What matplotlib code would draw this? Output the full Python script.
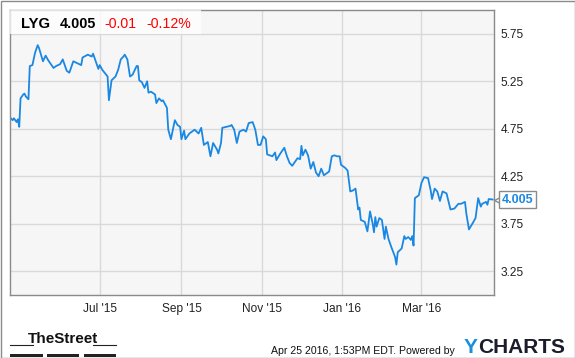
import matplotlib
matplotlib.use("Agg")
import matplotlib.pyplot as plt
import matplotlib.transforms as mtransforms
from matplotlib.patches import Rectangle
from matplotlib.lines import Line2D
import pandas as pd

plt.rcParams['font.family'] = ['Liberation Sans', 'DejaVu Sans']

# header / footer text
ticker = "LYG"
last_price = 4.005
change = "-0.01"
change_pct = "-0.12%"
timestamp = "Apr 25 2016, 1:53PM EDT. Powered by"

# price series
dates = [
    "2015-04-24", "2015-04-26", "2015-04-27", "2015-04-29", "2015-04-30",
    "2015-05-01", "2015-05-02", "2015-05-04", "2015-05-05", "2015-05-06",
    "2015-05-08", "2015-05-09", "2015-05-11", "2015-05-13", "2015-05-15",
    "2015-05-16", "2015-05-19", "2015-05-21", "2015-05-23", "2015-05-27",
    "2015-05-29", "2015-06-01", "2015-06-03", "2015-06-06", "2015-06-08",
    "2015-06-11", "2015-06-14", "2015-06-17", "2015-06-18", "2015-06-22",
    "2015-06-25", "2015-06-26", "2015-06-30", "2015-07-01", "2015-07-03",
    "2015-07-07", "2015-07-08", "2015-07-10", "2015-07-13", "2015-07-15",
    "2015-07-17", "2015-07-19", "2015-07-20", "2015-07-22", "2015-07-24",
    "2015-07-26", "2015-07-29", "2015-07-30", "2015-07-31", "2015-08-02",
    "2015-08-04", "2015-08-06", "2015-08-07", "2015-08-09", "2015-08-12",
    "2015-08-13", "2015-08-15", "2015-08-17", "2015-08-18", "2015-08-21",
    "2015-08-22", "2015-08-24", "2015-08-27", "2015-08-29", "2015-08-31",
    "2015-09-01", "2015-09-03", "2015-09-04", "2015-09-07", "2015-09-10",
    "2015-09-11", "2015-09-14", "2015-09-16", "2015-09-18", "2015-09-21",
    "2015-09-23", "2015-09-25", "2015-09-28", "2015-09-29", "2015-10-01",
    "2015-10-02", "2015-10-05", "2015-10-08", "2015-10-09", "2015-10-11",
    "2015-10-13", "2015-10-15", "2015-10-18", "2015-10-20", "2015-10-22",
    "2015-10-25", "2015-10-27", "2015-10-29", "2015-10-31", "2015-11-02",
    "2015-11-04", "2015-11-05", "2015-11-07", "2015-11-09", "2015-11-11",
    "2015-11-12", "2015-11-15", "2015-11-18", "2015-11-20", "2015-11-22",
    "2015-11-24", "2015-11-26", "2015-11-28", "2015-11-30", "2015-12-01",
    "2015-12-02", "2015-12-04", "2015-12-06", "2015-12-08", "2015-12-10",
    "2015-12-12", "2015-12-14", "2015-12-16", "2015-12-18", "2015-12-22",
    "2015-12-24", "2015-12-26", "2015-12-28", "2015-12-30", "2015-12-31",
    "2016-01-03", "2016-01-05", "2016-01-07", "2016-01-09", "2016-01-11",
    "2016-01-13", "2016-01-14", "2016-01-15", "2016-01-18", "2016-01-20",
    "2016-01-22", "2016-01-24", "2016-01-25", "2016-01-26", "2016-01-27",
    "2016-01-29", "2016-01-31", "2016-02-02", "2016-02-03", "2016-02-05",
    "2016-02-07", "2016-02-10", "2016-02-11", "2016-02-12", "2016-02-15",
    "2016-02-17", "2016-02-18", "2016-02-20", "2016-02-22", "2016-02-23",
    "2016-02-24", "2016-02-25", "2016-02-28", "2016-03-01", "2016-03-03",
    "2016-03-06", "2016-03-08", "2016-03-09", "2016-03-11", "2016-03-13",
    "2016-03-15", "2016-03-17", "2016-03-20", "2016-03-23", "2016-03-26",
    "2016-03-29", "2016-03-31", "2016-04-03", "2016-04-04", "2016-04-06",
    "2016-04-09", "2016-04-11", "2016-04-13", "2016-04-15", "2016-04-16",
    "2016-04-19", "2016-04-20", "2016-04-21", "2016-04-24",
]
prices = [
    4.87, 4.84, 4.86, 4.82, 4.85,
    4.77, 5.07, 5.11, 5.12, 5.09,
    5.06, 5.41, 5.42, 5.55, 5.63,
    5.60, 5.46, 5.52, 5.47, 5.39,
    5.41, 5.43, 5.48, 5.36, 5.34,
    5.46, 5.44, 5.42, 5.50, 5.53,
    5.51, 5.54, 5.38, 5.42, 5.37,
    5.30, 5.05, 5.26, 5.30, 5.37,
    5.48, 5.51, 5.53, 5.48, 5.30,
    5.32, 5.41, 5.41, 5.26, 5.24,
    5.18, 5.25, 5.13, 5.14, 5.11,
    5.02, 5.07, 5.04, 5.05, 4.97,
    4.74, 4.64, 4.84, 4.79, 4.77,
    4.64, 4.73, 4.64, 4.70, 4.73,
    4.74, 4.70, 4.76, 4.58, 4.61,
    4.46, 4.60, 4.53, 4.49, 4.60,
    4.76, 4.77, 4.78, 4.79, 4.74,
    4.60, 4.72, 4.74, 4.72, 4.81,
    4.82, 4.74, 4.58, 4.58, 4.67,
    4.64, 4.48, 4.47, 4.46, 4.50,
    4.42, 4.49, 4.55, 4.46, 4.39,
    4.36, 4.40, 4.44, 4.43, 4.57,
    4.47, 4.53, 4.47, 4.33, 4.40,
    4.29, 4.25, 4.33, 4.26, 4.30,
    4.46, 4.47, 4.46, 4.46, 4.37,
    4.34, 4.31, 4.09, 4.10, 4.12,
    3.90, 3.92, 3.79, 3.77, 3.67,
    3.88, 3.75, 3.66, 3.82, 3.72,
    3.81, 3.79, 3.59, 3.72, 3.59,
    3.51, 3.40, 3.32, 3.45, 3.49,
    3.62, 3.59, 3.61, 3.58, 3.62,
    3.52, 4.02, 4.05, 4.18, 4.24,
    4.23, 4.10, 4.01, 4.12, 4.09,
    3.99, 4.09, 4.07, 3.90, 3.91,
    3.96, 3.96, 3.98, 3.86, 3.69,
    3.76, 3.81, 4.02, 3.93, 3.96,
    3.98, 3.95, 4.01, 4.005,
]

y_ticks = [3.25, 3.75, 4.25, 4.75, 5.25, 5.75]
x_ticks = ["2015-07-01", "2015-09-01", "2015-11-01", "2016-01-01", "2016-03-01"]
x_tick_labels = ["Jul '15", "Sep '15", "Nov '15", "Jan '16", "Mar '16"]

W, H = 575, 358
fig = plt.figure(figsize=(W / 100, H / 100), dpi=100)
fig.patch.set_facecolor('white')

ax = fig.add_axes([10 / W, 1 - 295 / H, 484 / W, 285 / H])
ax.set_facecolor('#f6f6f6')
ax.plot(pd.to_datetime(dates), prices, color='#1a88e3', lw=1.3, zorder=2)

ax.set_xlim(pd.Timestamp("2015-04-24"), pd.Timestamp("2016-04-25"))
ax.set_ylim(3.0, 6.0)
ax.set_yticks(y_ticks)
ax.set_yticklabels([f"{v:.2f}" for v in y_ticks])
ax.set_xticks(pd.to_datetime(x_ticks))
ax.set_xticklabels(x_tick_labels)
ax.yaxis.tick_right()
ax.tick_params(axis='both', length=0, labelsize=8.6, colors='#222222')
ax.tick_params(axis='y', pad=5)
ax.tick_params(axis='x', pad=6)
ax.grid(True, color='#d9d9d9', lw=1.0)
ax.set_axisbelow(True)
for s in ax.spines.values():
    s.set_color('#8a8a8a')
    s.set_linewidth(1.0)

# last price tag with pointer
blend = mtransforms.blended_transform_factory(ax.transAxes, ax.transData)
offs = mtransforms.ScaledTranslation(3.5 / 100, 0, fig.dpi_scale_trans)
ax.plot([1], [last_price], transform=blend + offs, marker='<', ms=6,
        mfc='white', mec='#8a8a8a', mew=1.0, clip_on=False, zorder=2.5)
ax.annotate(f"{last_price:.3f}", xy=(1, last_price),
            xycoords=('axes fraction', 'data'), xytext=(7.5, 0),
            textcoords='offset pixels', ha='left', va='center',
            fontsize=9, fontweight='bold', color='#1a88e3',
            bbox=dict(boxstyle='square,pad=0.2', fc='white', ec='#8a8a8a', lw=1.0),
            annotation_clip=False)

# header box
fig.add_artist(Rectangle((10 / W, 1 - 34 / H), 191 / W, 24 / H,
                         transform=fig.transFigure, fc='white', ec='none',
                         alpha=0.75, zorder=3))
hy = 1 - 28 / H
fig.text(21 / W, hy, ticker, fontsize=10.6, fontweight='bold', color='black', va='baseline', zorder=4)
fig.text(60 / W, hy, f"{last_price:.3f}", fontsize=10.4, fontweight='bold', color='black', va='baseline', zorder=4)
fig.text(104 / W, hy, change, fontsize=10.2, color='#ff0000', va='baseline', zorder=4)
fig.text(146 / W, hy, change_pct, fontsize=10.2, color='#ff0000', va='baseline', zorder=4)

# footer
fig.text(271 / W, 1 - 350.5 / H, timestamp, fontsize=7.6, color='#111111', va='center')
fig.text(464 / W, 1 - 347.5 / H, "Y", fontsize=15, fontweight='bold', color='#1a8fdc', va='center')
fig.text(478 / W, 1 - 347.5 / H, "CHARTS", fontsize=15, fontweight='bold', color='#1c1c2c', va='center')

fig.text(63 / W, 1 - 339 / H, "TheStreet", ha='center', va='center', fontsize=11,
         fontweight='bold', color='#111111')
for x0, x1 in [(10, 33), (93, 116)]:
    fig.add_artist(Line2D([x0 / W, x1 / W], [1 - 345 / H, 1 - 345 / H],
                          transform=fig.transFigure, color='#222222', lw=0.8))
for x0, x1 in [(10, 42.5), (47, 79), (84, 116)]:
    fig.add_artist(Rectangle((x0 / W, 1 - 357 / H), (x1 - x0) / W, 3.5 / H,
                             transform=fig.transFigure, fc='#222222', ec='none'))

# outer border
fig.add_artist(Rectangle((0.5 / W, 0.5 / H), 1 - 1 / W, 1 - 1 / H,
                         transform=fig.transFigure, fill=False, ec='#8a8a8a', lw=1.0))

fig.savefig("out.png", dpi=100, facecolor='white')
